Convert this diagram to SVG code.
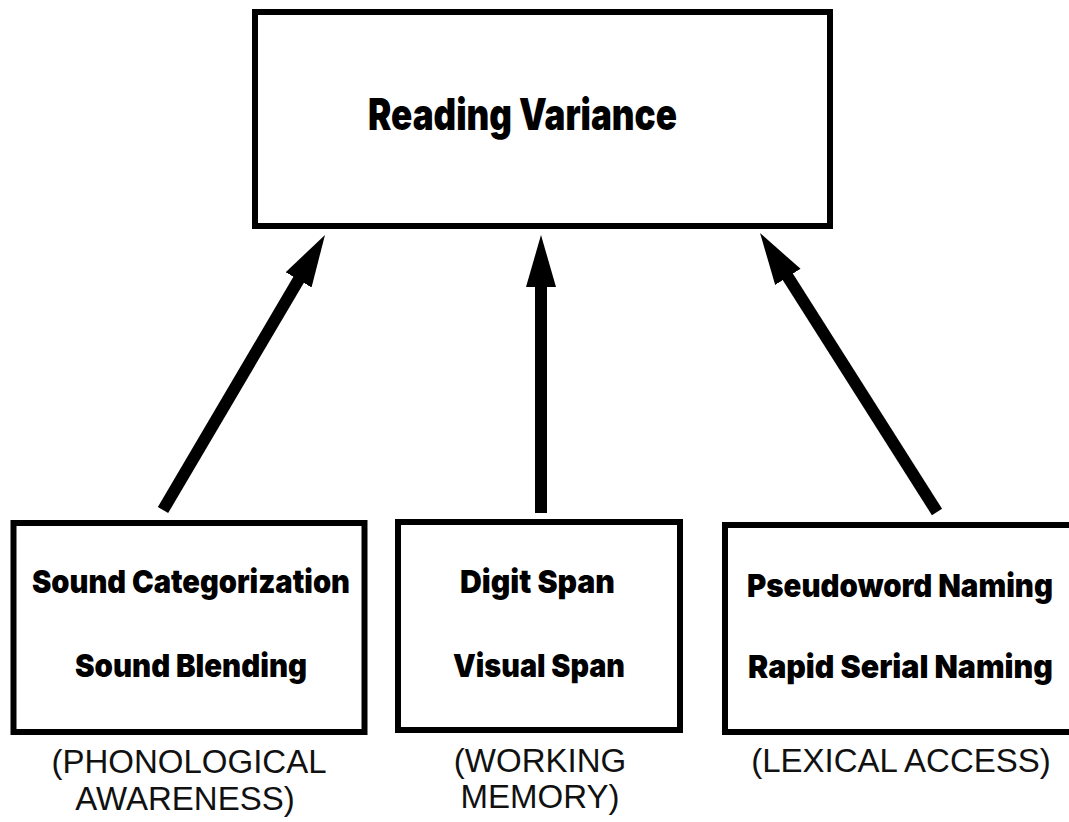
<svg xmlns="http://www.w3.org/2000/svg" width="1069" height="822" viewBox="0 0 1069 822">
<style>
.box{fill:#fff;stroke:#000;stroke-width:6}
.t{font-family:Inter,Lato,"Liberation Sans",sans-serif;font-weight:900;fill:#000;text-anchor:middle}
.s{font-family:"Liberation Sans",Arial,sans-serif;font-size:33px;fill:#111;text-anchor:middle}
.c{stroke:#000;stroke-width:12;fill:none;marker-end:url(#ah)}
</style>
<defs>
<marker id="ah" markerUnits="userSpaceOnUse" markerWidth="54" markerHeight="32" refX="2" refY="15" orient="auto" viewBox="0 0 54 30">
<path d="M0,0 L52,15 L0,30 Z" fill="#000"/>
</marker>
</defs>
<rect width="1069" height="822" fill="#fff"/>
<g id="connectors">
<line class="c" x1="163" y1="510" x2="299.6" y2="278.1"/>
<line class="c" x1="541" y1="513" x2="541" y2="285"/>
<line class="c" x1="937" y1="512" x2="786.8" y2="275.2"/>
</g>
<g id="reading-variance">
<rect class="box" x="255" y="12" width="575" height="214"/>
<text class="t" x="522.5" y="130" font-size="44" textLength="309" lengthAdjust="spacingAndGlyphs">Reading Variance</text>
</g>
<g id="phonological">
<rect class="box" x="13.5" y="523" width="351" height="209"/>
<text class="t" x="191" y="593" font-size="32" textLength="318" lengthAdjust="spacingAndGlyphs">Sound Categorization</text>
<text class="t" x="191" y="677" font-size="32" textLength="232" lengthAdjust="spacingAndGlyphs">Sound Blending</text>
<text class="s" x="189" y="773">(PHONOLOGICAL</text>
<text class="s" x="185" y="810">AWARENESS)</text>
</g>
<g id="working-memory">
<rect class="box" x="398" y="522" width="282" height="208"/>
<text class="t" x="537.5" y="593" font-size="32" textLength="155" lengthAdjust="spacingAndGlyphs">Digit Span</text>
<text class="t" x="539" y="677" font-size="32" textLength="172" lengthAdjust="spacingAndGlyphs">Visual Span</text>
<text class="s" x="540" y="772">(WORKING</text>
<text class="s" x="540" y="808">MEMORY)</text>
</g>
<g id="lexical-access">
<rect class="box" x="725" y="525" width="360" height="207"/>
<text class="t" x="900" y="597" font-size="32" textLength="306" lengthAdjust="spacingAndGlyphs">Pseudoword Naming</text>
<text class="t" x="900.5" y="678" font-size="32" textLength="305" lengthAdjust="spacingAndGlyphs">Rapid Serial Naming</text>
<text class="s" x="901" y="772">(LEXICAL ACCESS)</text>
</g>
</svg>
